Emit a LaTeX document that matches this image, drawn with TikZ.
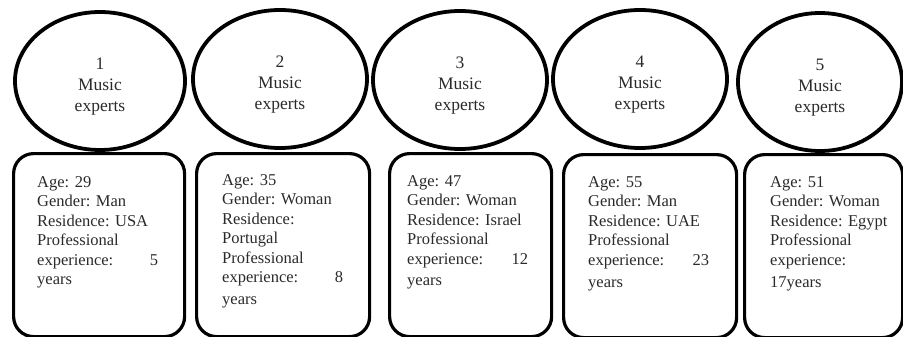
\documentclass[tikz,border=0pt]{standalone}
\usepackage{fontspec}
\setmainfont{Liberation Serif}
\usetikzlibrary{shapes.geometric}
\definecolor{txt}{HTML}{2A2A2A}
\frenchspacing
\begin{document}
\begin{tikzpicture}[x=1pt,y=1pt,
  oval/.style={ellipse, draw=black, line width=3.8pt, minimum height=138pt, inner sep=0pt},
  ovaltext/.style={inner sep=0pt, align=center, text=txt, font=\fontsize{17.5}{21}\selectfont},
  card/.style={draw=black, line width=3.2pt, rounded corners=20pt, inner sep=0pt, anchor=north west, minimum height=183pt},
  info/.style={anchor=north west, inner sep=0pt, text width=121pt, align=left, text=txt, font=\fontsize{16.5}{19.5}\selectfont\frenchspacing}]
\useasboundingbox (0,0) rectangle (903,-337);
% cards
\node[card, minimum width=171pt] (b1) at (12,-152) {};
\node[card, minimum width=173pt] (b2) at (195,-152) {};
\node[card, minimum width=162pt] (b3) at (388,-152) {};
\node[card, minimum width=173pt] (b4) at (562,-153) {};
\node[card, minimum width=158pt] (b5) at (743,-153) {};
% ovals
\node[oval, minimum width=170pt] (e1) at (100,-81) {};
\node[oval, minimum width=174pt] (e2) at (280,-79) {};
\node[oval, minimum width=174pt] (e3) at (460,-80) {};
\node[oval, minimum width=174pt] (e4) at (640,-79) {};
\node[oval, minimum width=164pt] (e5) at (820,-82) {};
\node[ovaltext] (l1) at ([yshift=-6pt]e1.center) {1\\Music\\experts};
\node[ovaltext] (l2) at ([yshift=-6pt]e2.center) {2\\Music\\experts};
\node[ovaltext] (l3) at ([yshift=-6pt]e3.center) {3\\Music\\experts};
\node[ovaltext] (l4) at ([yshift=-6pt]e4.center) {4\\Music\\experts};
\node[ovaltext] (l5) at ([yshift=-6pt]e5.center) {5\\Music\\experts};
% texts
\node[info] (t1) at (37,-176) {Age: 29\\Gender: Man\\Residence: USA\\Professional\\experience:\hfill 5\\years};
\node[info] (t2) at (222,-174) {Age: 35\\Gender: Woman\\Residence:\\Portugal\\Professional\\experience:\hfill 8\\[2pt]years};
\node[info] (t3) at (407,-175) {Age: 47\\Gender: Woman\\Residence: Israel\\Professional\\experience:\hfill 12\\[2pt]years};
\node[info] (t4) at (588,-176) {Age: 55\\Gender: Man\\Residence: UAE\\Professional\\experience:\hfill 23\\[3pt]years};
\node[info] (t5) at (770,-176) {Age: 51\\Gender: Woman\\Residence: Egypt\\Professional\\experience:\\[3pt]17years};
\end{tikzpicture}
\end{document}
